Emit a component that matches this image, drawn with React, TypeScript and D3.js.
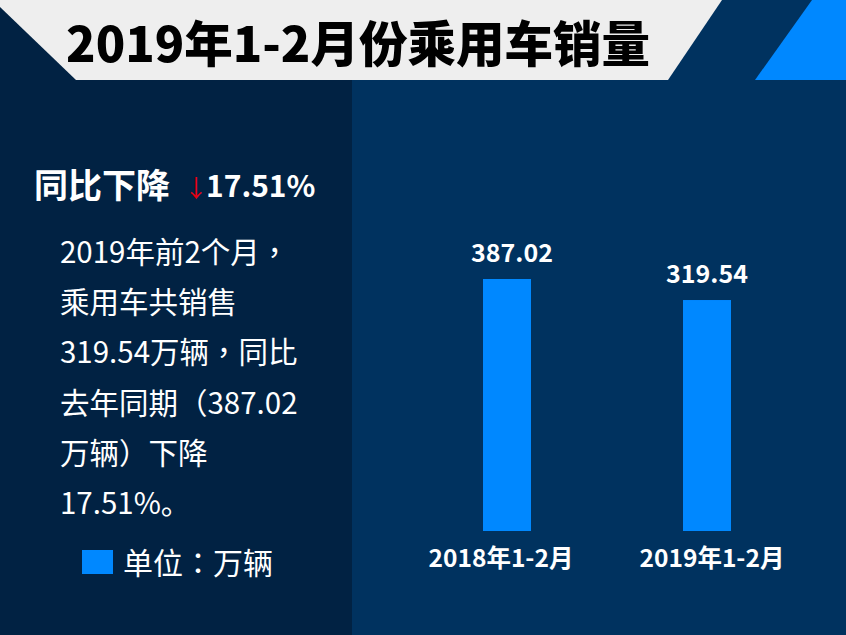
import React from "react";
import * as d3 from "d3";

const categories = ["2018年1-2月", "2019年1-2月"];
const values = [387.02, 319.54];
const valueLabels = ["387.02", "319.54"];
const titleText = "2019年1-2月份乘用车销量";
const headline = "同比下降";
const headlineValue = "17.51%";
const paragraph = [
  "2019年前2个月，",
  "乘用车共销售",
  "319.54万辆，同比",
  "去年同期（387.02",
  "万辆）下降",
  "17.51%。",
];
const legendText = "单位：万辆";

const W = 846;
const H = 635;
const FONT = "'Noto Sans CJK SC', 'Noto Sans', sans-serif";
const FONT_TC = "'Noto Sans CJK TC', 'Noto Sans CJK SC', sans-serif";

export default function App() {
  const x = d3.scalePoint<string>().domain(categories).range([507, 707]).padding(0);
  const y = d3.scaleLinear().domain([-422, 387.02]).range([531, 279]);
  const barW = 48;

  return (
    <svg
      width={W}
      height={H}
      style={{ position: "absolute", left: 0, top: 0, display: "block" }}
      fontFamily={FONT}
    >
      <rect x={0} y={0} width={W} height={H} fill="#00325f" />
      <rect x={0} y={0} width={352} height={H} fill="#012243" />
      <polygon points="0,0 722,0 668,80 76,80 0,7" fill="#eeeeee" />
      <polygon points="812,0 846,0 846,80 755,80" fill="#0088ff" />
      <text
        x={358}
        y={62}
        textAnchor="middle"
        fontSize={48.5}
        fontWeight={900}
        fill="#000"
      >
        {titleText}
      </text>

      <text x={34} y={198} fontSize={34} fontWeight={700} fill="#fff">
        {headline}
      </text>
      <text x={184} y={197} fontSize={24} fontWeight={400} fill="#e60012">
        ↓
      </text>
      <text x={206} y={197} fontSize={30} fontWeight={700} fill="#fff">
        {headlineValue}
      </text>

      {paragraph.map((line, i) => (
        <text
          key={i}
          x={60}
          y={263 + i * 50.2}
          fontSize={29.5}
          fill="#fff"
          fontFamily={i === paragraph.length - 1 ? FONT : FONT_TC}
        >
          {line}
        </text>
      ))}

      <rect x={82} y={550} width={31} height={24} fill="#0088ff" />
      <text x={123} y={574} fontSize={30} fill="#fff" fontFamily={FONT_TC}>
        {legendText}
      </text>

      {categories.map((c, i) => {
        const cx = x(c) as number;
        return (
          <g key={c}>
            <rect
              x={cx - barW / 2}
              y={y(values[i])}
              width={barW}
              height={y(-422) - y(values[i])}
              fill="#0088ff"
            />
            <text
              x={cx + (i === 0 ? 5 : 0)}
              y={y(values[i]) - 17}
              textAnchor="middle"
              fontSize={25}
              fontWeight={700}
              fill="#fff"
            >
              {valueLabels[i]}
            </text>
            <text
              x={cx + (i === 0 ? -6 : 5)}
              y={567}
              textAnchor="middle"
              fontSize={24.5}
              fontWeight={700}
              fill="#fff"
            >
              {c}
            </text>
          </g>
        );
      })}
    </svg>
  );
}
